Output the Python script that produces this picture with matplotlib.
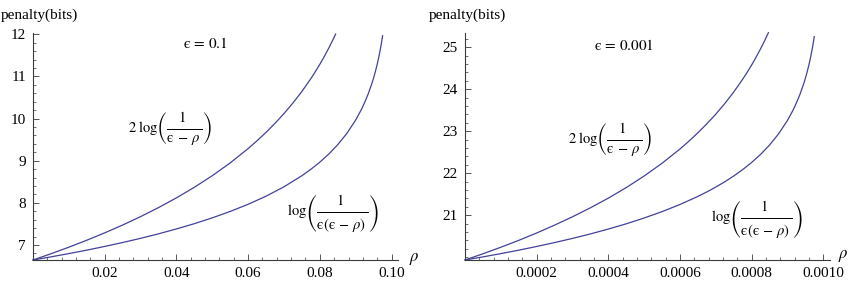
import matplotlib
matplotlib.use("Agg")
import matplotlib.pyplot as plt
from matplotlib.ticker import MultipleLocator

plt.rcParams['font.family'] = ['Liberation Serif', 'DejaVu Serif']
plt.rcParams['mathtext.fontset'] = 'stix'

# left panel, epsilon = 0.1
rho_a1 = [0, 0.005, 0.01, 0.015, 0.02, 0.025, 0.03, 0.035, 0.04, 0.045, 0.05, 0.055,
          0.06, 0.0625, 0.065, 0.0675, 0.07, 0.0725, 0.075, 0.0775, 0.0785, 0.08, 0.081,
          0.0815, 0.0825, 0.0835, 0.084, 0.0844]
pen_a1 = [6.644, 6.792, 6.948, 7.113, 7.288, 7.474, 7.673, 7.887, 8.118, 8.369, 8.644, 8.948,
          9.288, 9.474, 9.673, 9.887, 10.118, 10.369, 10.644, 10.948, 11.079, 11.288, 11.436,
          11.513, 11.673, 11.843, 11.932, 12.005]
rho_b1 = [0, 0.005, 0.01, 0.015, 0.02, 0.025, 0.03, 0.035, 0.04, 0.045, 0.05, 0.055,
          0.06, 0.065, 0.07, 0.075, 0.0775, 0.08, 0.0825, 0.085, 0.0875, 0.09, 0.0915,
          0.0925, 0.0935, 0.0945, 0.095, 0.0955, 0.096, 0.0965, 0.097, 0.0972, 0.0975]
pen_b1 = [6.644, 6.718, 6.796, 6.878, 6.966, 7.059, 7.158, 7.265, 7.381, 7.506, 7.644, 7.796,
          7.966, 8.158, 8.381, 8.644, 8.796, 8.966, 9.158, 9.381, 9.644, 9.966, 10.200,
          10.381, 10.587, 10.828, 10.966, 11.118, 11.288, 11.480, 11.703, 11.802, 11.966]

# right panel, epsilon = 0.001
rho_a2 = [0, 0.00005, 0.0001, 0.00015, 0.0002, 0.00025, 0.0003, 0.00035, 0.0004, 0.00045,
          0.0005, 0.00055, 0.0006, 0.000625, 0.00065, 0.000675, 0.0007, 0.000725, 0.00075,
          0.000775, 0.000785, 0.0008, 0.00081, 0.000825, 0.000835, 0.00084, 0.000847]
pen_a2 = [19.932, 20.080, 20.236, 20.400, 20.575, 20.762, 20.961, 21.175, 21.405, 21.656,
          21.932, 22.236, 22.575, 22.762, 22.961, 23.175, 23.405, 23.657, 23.932,
          24.236, 24.366, 24.575, 24.723, 24.961, 25.130, 25.219, 25.348]
rho_b2 = [0, 0.00005, 0.0001, 0.00015, 0.0002, 0.00025, 0.0003, 0.00035, 0.0004, 0.00045,
          0.0005, 0.00055, 0.0006, 0.00065, 0.000675, 0.0007, 0.000725, 0.00075, 0.000775,
          0.0008, 0.000825, 0.00085, 0.000875, 0.0009, 0.000915, 0.000925, 0.000935,
          0.000945, 0.00095, 0.000955, 0.00096, 0.000965, 0.00097, 0.000972, 0.000973,
          0.000975]
pen_b2 = [19.932, 20.006, 20.084, 20.166, 20.254, 20.347, 20.446, 20.553, 20.669, 20.794,
          20.932, 21.084, 21.254, 21.446, 21.553, 21.669, 21.794, 21.932, 22.084,
          22.254, 22.446, 22.669, 22.932, 23.254, 23.488, 23.669, 23.875,
          24.116, 24.254, 24.406, 24.575, 24.768, 24.990, 25.090, 25.142,
          25.254]

xticks1 = [0.02, 0.04, 0.06, 0.08, 0.10]
xlabels1 = ["0.02", "0.04", "0.06", "0.08", "0.10"]
yticks1 = [7, 8, 9, 10, 11, 12]
xticks2 = [0.0002, 0.0004, 0.0006, 0.0008, 0.0010]
xlabels2 = ["0.0002", "0.0004", "0.0006", "0.0008", "0.0010"]
yticks2 = [21, 22, 23, 24, 25]

line_color = (0.26, 0.26, 0.6)
axis_color = '#3a3a3a'

fig = plt.figure(figsize=(8.5, 2.86), dpi=100)
ax1 = fig.add_axes([33 / 850, 1 - 260 / 286, 365 / 850, 227 / 286])
ax2 = fig.add_axes([465 / 850, 1 - 260 / 286, 365 / 850, 227 / 286])


def style_axes(ax, xlim, ylim, xticks, xlabels, yticks, xminor, yminor):
    ax.set_xlim(*xlim)
    ax.set_ylim(*ylim)
    for s in ['top', 'right']:
        ax.spines[s].set_visible(False)
    for s in ['left', 'bottom']:
        ax.spines[s].set_color(axis_color)
        ax.spines[s].set_linewidth(0.8)
    ax.set_xticks(xticks)
    ax.set_xticklabels(xlabels)
    ax.set_yticks(yticks)
    ax.xaxis.set_minor_locator(MultipleLocator(xminor))
    ax.yaxis.set_minor_locator(MultipleLocator(yminor))
    ax.tick_params(which='major', direction='in', length=4, width=0.6,
                   color=axis_color, labelsize=11, pad=5)
    ax.tick_params(which='minor', direction='in', length=2.2, width=0.5,
                   color=axis_color)
    ax.patch.set_alpha(0)


style_axes(ax1, (0, 0.1018), (6.644, 12.03), xticks1, xlabels1, yticks1, 0.004, 0.2)
style_axes(ax2, (0, 0.001019), (19.932, 25.34), xticks2, xlabels2, yticks2, 0.00004, 0.2)

ax1.plot(rho_a1, pen_a1, color=line_color, lw=0.9, clip_on=False)
ax1.plot(rho_b1, pen_b1, color=line_color, lw=0.9, clip_on=False)
ax2.plot(rho_a2, pen_a2, color=line_color, lw=0.9, clip_on=False)
ax2.plot(rho_b2, pen_b2, color=line_color, lw=0.9, clip_on=False)

fs = 11
ax1.text(0.0482, 11.77, r'$\mathrm{ϵ}\, =\, 0.1$', ha='center', va='center', fontsize=fs)
ax2.text(0.000444, 25.05, r'$\mathrm{ϵ}\, =\, 0.001$', ha='center', va='center', fontsize=fs)

# spaced-out fractions so the parentheses come out tall like the original
num = r'\genfrac{}{}{0}{0}{1}{\ }'
den_a = r'\genfrac{}{}{0}{0}{\ }{\mathrm{ϵ}\,-\,\rho}'
den_b = r'\genfrac{}{}{0}{0}{\ }{\mathrm{ϵ}(\mathrm{ϵ}\,-\,\rho)}'
lab_a = r'$2\;\mathrm{log}\left(\dfrac{' + num + '}{' + den_a + r'}\right)$'
lab_b = r'$\mathrm{log}\left(\dfrac{' + num + '}{' + den_b + r'}\right)$'
lfs = 10.5
ax1.text(0.0382, 9.76, lab_a, ha='center', va='center', fontsize=lfs)
ax1.text(0.0837, 7.735, lab_b, ha='center', va='center', fontsize=lfs)
ax2.text(0.000405, 22.79, lab_a, ha='center', va='center', fontsize=lfs)
ax2.text(0.000814, 20.88, lab_b, ha='center', va='center', fontsize=lfs)

fig.text(1 / 850, 1 - 15 / 286, 'penalty(bits)', ha='left', va='center', fontsize=fs)
fig.text(429 / 850, 1 - 15 / 286, 'penalty(bits)', ha='left', va='center', fontsize=fs)
fig.text(414 / 850, 1 - 259 / 286, r'$\rho$', ha='center', va='center', fontsize=fs + 1)
fig.text(843 / 850, 1 - 256 / 286, r'$\rho$', ha='center', va='center', fontsize=fs + 1)

fig.savefig('out.png', dpi=100)
